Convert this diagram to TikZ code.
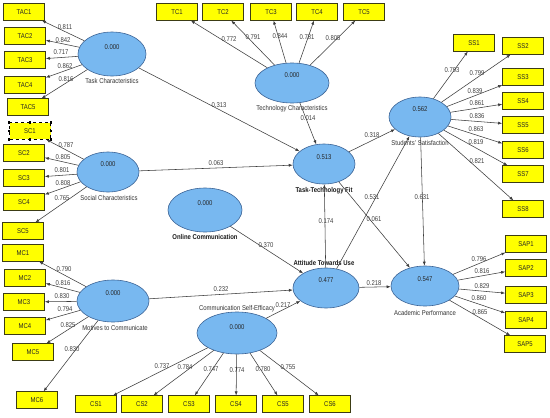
\documentclass[tikz,border=0pt]{standalone}
\usepackage{fontspec}
\setmainfont{Liberation Sans}[FakeStretch=0.85]
\usetikzlibrary{shapes.geometric,arrows.meta}
\definecolor{lvfill}{RGB}{120,184,240}
\definecolor{lvdraw}{RGB}{60,100,150}
\definecolor{mvfill}{RGB}{255,255,0}
\definecolor{mvdraw}{RGB}{60,60,20}
\definecolor{edgec}{RGB}{60,60,60}
\newcommand{\fsz}{\fontsize{7}{8}\selectfont}
\begin{document}
\begin{tikzpicture}[x=1pt,y=-1pt,
  lv/.style={ellipse, draw=lvdraw, fill=lvfill, line width=0.6pt, inner sep=0pt},
  mv/.style={rectangle, draw=mvdraw, fill=mvfill, line width=0.6pt, minimum width=41pt, minimum height=16.5pt, inner sep=0pt, font=\fsz, text=black!85},
  val/.style={font=\fsz, text=black!85, inner sep=0pt},
  lbl/.style={font=\fsz, text=black!75, inner sep=0.5pt},
  lvname/.style={font=\fsz, text=black!80, inner sep=0pt},
  lvbname/.style={font=\fsz\bfseries, text=black!90, inner sep=0pt},
  arr/.style={draw=edgec, line width=0.55pt, -{Latex[length=4pt,width=3pt]}}]
\useasboundingbox (0,0) rectangle (550,418);
\fill[white] (0,0) rectangle (550,418);

% latent variables
\node[lv, minimum width=68pt, minimum height=44pt] (tac) at (112,54) {};
\node[lv, minimum width=74pt, minimum height=40pt] (tc) at (292,83) {};
\node[lv, minimum width=62pt, minimum height=40pt] (ss) at (420,117) {};
\node[lv, minimum width=62pt, minimum height=40pt] (sc) at (108,172) {};
\node[lv, minimum width=62pt, minimum height=40pt] (ttf) at (324,164) {};
\node[lv, minimum width=74pt, minimum height=44pt] (oc) at (205,210) {};
\node[lv, minimum width=66pt, minimum height=40pt] (atu) at (326,288) {};
\node[lv, minimum width=72pt, minimum height=42pt] (mc) at (113,301) {};
\node[lv, minimum width=80pt, minimum height=42pt] (cs) at (237,333) {};
\node[lv, minimum width=68pt, minimum height=40pt] (ap) at (425,286) {};

% values
\node[val] (tacv) at (112,47) {0.000};
\node[val] (tcv) at (292,75) {0.000};
\node[val] (ssv) at (420,109) {0.562};
\node[val] (scv) at (108,164) {0.000};
\node[val] (ttfv) at (324,157) {0.513};
\node[val] (ocv) at (205,203) {0.000};
\node[val] (atuv) at (326,280) {0.477};
\node[val] (mcv) at (113,293) {0.000};
\node[val] (csv) at (237,327) {0.000};
\node[val] (apv) at (425,279) {0.547};

% latent names
\node[lvname] (tacn) at (112,81) {Task Characteristics};
\node[lvname] (tcn) at (292,109) {Technology Characteristics};
\node[lvname] (ssn) at (420,143) {Students' Satisfaction};
\node[lvname] (scn) at (109,198) {Social Characteristics};
\node[lvbname] (ttfn) at (324,191) {Task-Technology Fit};
\node[lvbname] (ocn) at (205,237) {Online Communication};
\node[lvbname] (atun) at (324,263) {Attitude Towards Use};
\node[lvname] (mcn) at (115,328) {Motives to Communicate};
\node[lvname] (csn) at (237,309) {Communication Self-Efficacy};
\node[lvname] (apn) at (425,313) {Academic Performance};

% indicators
\node[mv] (tac1) at (24,12) {TAC1};
\node[mv] (tac2) at (25,36) {TAC2};
\node[mv] (tac3) at (25,60) {TAC3};
\node[mv] (tac4) at (25,85) {TAC4};
\node[mv] (tac5) at (28,107) {TAC5};
\node[mv, draw=black, dashed] (sc1) at (30,131) {SC1};
\node[mv] (sc2) at (24,153) {SC2};
\node[mv] (sc3) at (24,178) {SC3};
\node[mv] (sc4) at (24,202) {SC4};
\node[mv] (sc5) at (23,231) {SC5};
\node[mv] (mc1) at (23,253) {MC1};
\node[mv] (mc2) at (25,278) {MC2};
\node[mv] (mc3) at (24,302) {MC3};
\node[mv] (mc4) at (25,326) {MC4};
\node[mv] (mc5) at (33,352) {MC5};
\node[mv] (mc6) at (37,400) {MC6};
\node[mv] (cs1) at (96,404) {CS1};
\node[mv] (cs2) at (142,404) {CS2};
\node[mv] (cs3) at (189,404) {CS3};
\node[mv] (cs4) at (236,404) {CS4};
\node[mv] (cs5) at (283,404) {CS5};
\node[mv] (cs6) at (330,404) {CS6};
\node[mv] (tc1) at (177,12) {TC1};
\node[mv] (tc2) at (223,12) {TC2};
\node[mv] (tc3) at (271,12) {TC3};
\node[mv] (tc4) at (317,12) {TC4};
\node[mv] (tc5) at (364,12) {TC5};
\node[mv] (ss1) at (474,43) {SS1};
\node[mv] (ss2) at (523,46) {SS2};
\node[mv] (ss3) at (523,77) {SS3};
\node[mv] (ss4) at (523,101) {SS4};
\node[mv] (ss5) at (523,125) {SS5};
\node[mv] (ss6) at (523,150) {SS6};
\node[mv] (ss7) at (523,174) {SS7};
\node[mv] (ss8) at (523,209) {SS8};
\node[mv] (sap1) at (526,244) {SAP1};
\node[mv] (sap2) at (526,268) {SAP2};
\node[mv] (sap3) at (526,295) {SAP3};
\node[mv] (sap4) at (526,320) {SAP4};
\node[mv] (sap5) at (525,344) {SAP5};

% selection handles on SC1
\foreach \a in {north west,north,north east,east,south east,south,south west,west}
  \fill[black] (sc1.\a) ++(-1.2,-1.2) rectangle ++(2.4,2.4);

% outer model arrows
\foreach \s/\t in {tac/tac1,tac/tac2,tac/tac3,tac/tac4,tac/tac5,
  sc/sc1,sc/sc2,sc/sc3,sc/sc4,sc/sc5,
  mc/mc1,mc/mc2,mc/mc3,mc/mc4,mc/mc5,mc/mc6,
  cs/cs1,cs/cs2,cs/cs3,cs/cs4,cs/cs5,cs/cs6,
  tc/tc1,tc/tc2,tc/tc3,tc/tc4,tc/tc5,
  ss/ss1,ss/ss2,ss/ss3,ss/ss4,ss/ss5,ss/ss6,ss/ss7,ss/ss8,
  ap/sap1,ap/sap2,ap/sap3,ap/sap4,ap/sap5}
  \draw[arr] (\s) -- (\t);

% inner model arrows
\draw[arr] (tac) -- (ttf);
\draw[arr] (tc) -- (ttf);
\draw[arr] (sc) -- (ttf);
\draw[arr] (ttf) -- (ss);
\draw[arr] (atu) -- (ss);
\draw[arr] (ss) -- (ap);
\draw[arr] (ttf) -- (ap);
\draw[arr] (atu) -- (ttf);
\draw[arr] (oc) -- (atu);
\draw[arr] (mc) -- (atu);
\draw[arr] (cs) -- (atu);
\draw[arr] (atu) -- (ap);

% outer loadings
\node[lbl] (l1) at (65,27) {0.811};
\node[lbl] (l2) at (63,40) {0.842};
\node[lbl] (l3) at (61,52) {0.717};
\node[lbl] (l4) at (65,66) {0.862};
\node[lbl] (l5) at (66,79) {0.816};
\node[lbl] (l6) at (229,39) {0.772};
\node[lbl] (l7) at (253,37) {0.791};
\node[lbl] (l8) at (280,36) {0.844};
\node[lbl] (l9) at (307,37) {0.781};
\node[lbl] (l10) at (333,38) {0.805};
\node[lbl] (l11) at (452,70) {0.793};
\node[lbl] (l12) at (477,73) {0.799};
\node[lbl] (l13) at (475,91) {0.839};
\node[lbl] (l14) at (477,103) {0.861};
\node[lbl] (l15) at (477,116) {0.836};
\node[lbl] (l16) at (476,129) {0.863};
\node[lbl] (l17) at (476,142) {0.819};
\node[lbl] (l18) at (477,161) {0.821};
\node[lbl] (l19) at (66,145) {0.787};
\node[lbl] (l20) at (63,157) {0.805};
\node[lbl] (l21) at (62,170) {0.801};
\node[lbl] (l22) at (63,183) {0.808};
\node[lbl] (l23) at (62,198) {0.765};
\node[lbl] (l24) at (64,269) {0.790};
\node[lbl] (l25) at (63,283) {0.816};
\node[lbl] (l26) at (62,296) {0.830};
\node[lbl] (l27) at (65,309) {0.794};
\node[lbl] (l28) at (68,325) {0.825};
\node[lbl] (l29) at (72,349) {0.830};
\node[lbl] (l30) at (162,366) {0.737};
\node[lbl] (l31) at (185,367) {0.784};
\node[lbl] (l32) at (211,369) {0.747};
\node[lbl] (l33) at (237,370) {0.774};
\node[lbl] (l34) at (263,369) {0.780};
\node[lbl] (l35) at (288,367) {0.755};
\node[lbl] (l36) at (479,259) {0.796};
\node[lbl] (l37) at (482,271) {0.816};
\node[lbl] (l38) at (482,286) {0.829};
\node[lbl] (l39) at (479,298) {0.860};
\node[lbl] (l40) at (480,312) {0.865};

% path coefficients
\node[lbl] (p1) at (219,105) {0.313};
\node[lbl] (p2) at (308,118) {0.014};
\node[lbl] (p3) at (216,163) {0.063};
\node[lbl] (p4) at (372,135) {0.318};
\node[lbl] (p5) at (372,197) {0.531};
\node[lbl] (p6) at (422,197) {0.631};
\node[lbl] (p7) at (374,219) {0.061};
\node[lbl] (p8) at (326,221) {0.174};
\node[lbl] (p9) at (266,245) {0.370};
\node[lbl] (p10) at (221,289) {0.232};
\node[lbl] (p11) at (283,305) {0.217};
\node[lbl] (p12) at (374,283) {0.218};
\end{tikzpicture}
\end{document}
